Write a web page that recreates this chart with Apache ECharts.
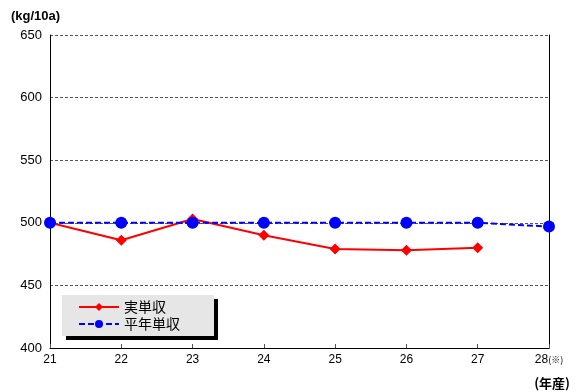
<!DOCTYPE html>
<html>
<head>
<meta charset="utf-8">
<script src="https://cdn.jsdelivr.net/npm/echarts@6/dist/echarts.min.js"></script>
<style>
  html, body { margin: 0; padding: 0; background: #fff; }
  #chart { width: 579px; height: 392px; }
</style>
</head>
<body>
<div id="chart"></div>
<script>
// 年産ごとの10a当たり収量（実単収）と平年単収
const years = ['21', '22', '23', '24', '25', '26', '27', '28(※)'];
const actualYield = [500, 486, 503, 490, 479, 478, 480, null];
const normalYield = [500, 500, 500, 500, 500, 500, 500, 497];
const yTicks = { min: 400, max: 650, step: 50 };

const chart = echarts.init(document.getElementById('chart'));
const numFont = 'Liberation Sans, Arial, sans-serif';
const jpFont = '"Noto Sans CJK JP", sans-serif';

chart.setOption({
  animation: false,
  backgroundColor: '#fff',
  grid: { left: 50, right: 30, top: 35, bottom: 44, containLabel: false },
  title: [
    { text: '(kg/10a)', left: 6, top: 5,
      textStyle: { fontFamily: numFont, fontSize: 13, fontWeight: 'bold', color: '#000' } },
    { text: '(年産)', right: 4, top: 372,
      textStyle: { fontFamily: jpFont, fontSize: 13, fontWeight: 'bold', color: '#000' } }
  ],
  legend: {
    left: 62, top: 295, orient: 'vertical',
    backgroundColor: '#e6e6e6',
    padding: [5, 34, 5, 16],
    itemGap: 3, itemWidth: 40, itemHeight: 10,
    shadowColor: '#000', shadowBlur: 0, shadowOffsetX: 4, shadowOffsetY: 4,
    textStyle: { fontFamily: jpFont, fontSize: 14, color: '#000' },
    data: ['実単収', '平年単収']
  },
  xAxis: {
    type: 'category', boundaryGap: false, data: years,
    axisLine: { lineStyle: { color: '#000', width: 1 } },
    axisTick: { inside: true, length: 4, lineStyle: { color: '#555' } },
    axisLabel: {
      fontFamily: numFont, fontSize: 12, color: '#000', margin: 6,
      formatter: v => v.replace('(※)', '{s|(※)}'),
      rich: { s: { fontSize: 9, fontFamily: jpFont, color: '#000' } }
    },
    splitLine: { show: false }
  },
  yAxis: [
    {
      type: 'value', min: yTicks.min, max: yTicks.max, interval: yTicks.step,
      axisLine: { show: true, lineStyle: { color: '#000', width: 1 } },
      axisTick: { show: false },
      axisLabel: { fontFamily: numFont, fontSize: 13, color: '#000', margin: 8 },
      splitLine: { show: true, lineStyle: { color: '#555', type: [3, 2], width: 1 } }
    },
    {
      type: 'value', min: yTicks.min, max: yTicks.max, interval: yTicks.step, position: 'right',
      axisLine: { show: true, lineStyle: { color: '#000', width: 1 } },
      axisTick: { show: false }, axisLabel: { show: false }, splitLine: { show: false }
    }
  ],
  series: [
    {
      name: '実単収', type: 'line', data: actualYield,
      symbol: 'diamond', symbolSize: 11,
      itemStyle: { color: '#ff0000' },
      lineStyle: { color: '#ff0000', width: 2 },
      connectNulls: false,
      z: 2
    },
    {
      name: '平年単収', type: 'line', data: normalYield,
      symbol: 'circle', symbolSize: 12,
      itemStyle: { color: '#0000ff' },
      lineStyle: { color: '#0000ff', width: 2, type: [6, 3] },
      z: 3
    }
  ]
});
</script>
</body>
</html>
